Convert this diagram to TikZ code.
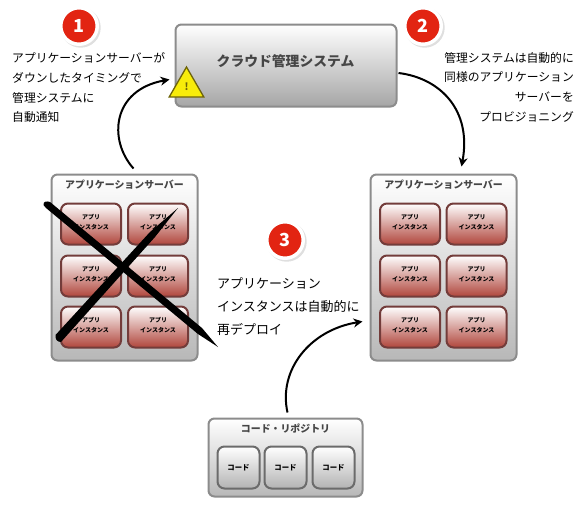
\documentclass[tikz,border=0pt]{standalone}
\usepackage{fontspec}
\setmainfont{Noto Sans CJK JP}
\usepackage{tikz}
\usetikzlibrary{arrows.meta, shapes.geometric, shadows}
\definecolor{Frame}{RGB}{140, 140, 140}
\definecolor{Ink}{RGB}{70, 70, 70}
\definecolor{Wine}{RGB}{115, 60, 58}
\definecolor{Brick}{RGB}{176, 70, 60}
\definecolor{Badge}{RGB}{226, 36, 18}
\definecolor{Sign}{RGB}{248, 236, 10}
\definecolor{SignEdge}{RGB}{110, 100, 10}

\begin{document}
\begin{tikzpicture}[
    x=1pt, y=-1pt,
    panel/.style={rectangle, rounded corners=6pt, draw=Frame, line width=2pt, top color=white, bottom color=black!28, minimum width=#1, inner sep=0pt},
    instance/.style={rectangle, rounded corners=7pt, draw=Wine, line width=2pt, top color=white, bottom color=Brick, minimum width=60pt, minimum height=41pt, align=center, inner sep=0pt, text depth=4pt, font=\fontsize{6}{10.7}\selectfont\bfseries},
    artifact/.style={rectangle, rounded corners=7pt, draw=black!58, line width=2pt, top color=white, bottom color=black!30, minimum width=42pt, minimum height=42pt, inner sep=0pt, font=\fontsize{7.4}{9}\selectfont\bfseries},
    heading/.style={text=Ink, inner sep=0pt, font=\fontsize{9.9}{12}\selectfont\bfseries},
    caption/.style={anchor=north west, align=left, inner sep=0pt, text=black},
    badge/.style={circle, draw=white, line width=3.5pt, fill=Badge, text=white, minimum size=36.5pt, inner sep=0pt, drop shadow={shadow xshift=1.5pt, shadow yshift=-1.5pt, shadow scale=1.1, opacity=0.25}, font=\fontsize{18}{18}\selectfont\bfseries},
    flow/.style={-{Stealth[length=9pt, width=9pt]}, line width=2pt, black}
]
    \useasboundingbox (0, 0) rectangle (587, 515);

    % Cloud system
    \node[panel=221pt, minimum height=82pt, bottom color=black!35] (cloud) at (286, 65.5) {};
    \node[heading, font=\fontsize{13.8}{16}\selectfont\bfseries] (cloudname) at (285.5, 61) {クラウド管理システム};
    \node[regular polygon, regular polygon sides=3, minimum size=40pt, inner sep=0pt, draw=SignEdge, line width=1.3pt, fill=Sign, text=SignEdge, font=\fontsize{10}{10}\selectfont\bfseries] (warn) at (186.5, 87) {!};

    % Failed server
    \node[panel=146pt, minimum height=186pt] (srvdown) at (124.5, 267.5) {};
    \node[heading] (srvdownname) at (124.5, 185) {アプリケーションサーバー};
    \node[instance] (down1) at (91, 224) {アプリ\\インスタンス};
    \node[instance] (down2) at (158, 224) {アプリ\\インスタンス};
    \node[instance] (down3) at (91, 276) {アプリ\\インスタンス};
    \node[instance] (down4) at (158, 276) {アプリ\\インスタンス};
    \node[instance] (down5) at (91, 327) {アプリ\\インスタンス};
    \node[instance] (down6) at (158, 327) {アプリ\\インスタンス};

    % Big cross
    \fill[black] (43.5, 205) .. controls (43, 201) and (47, 201) .. (50, 202) -- (202, 328) -- (218, 347) -- (198, 334) -- (46, 208) .. controls (45, 207) and (44, 206) .. (43.5, 205) -- cycle;
    \fill[black] (178, 208) -- (150, 232) -- (55.5, 335) .. controls (55, 339) and (57, 342) .. (61, 342) -- (155, 237) -- cycle;

    % Replacement server
    \node[panel=146pt, minimum height=186pt] (srvnew) at (443.5, 267.5) {};
    \node[heading] (srvnewname) at (443.5, 185) {アプリケーションサーバー};
    \node[instance] (new1) at (410, 224) {アプリ\\インスタンス};
    \node[instance] (new2) at (476.5, 224) {アプリ\\インスタンス};
    \node[instance] (new3) at (410, 276) {アプリ\\インスタンス};
    \node[instance] (new4) at (476.5, 276) {アプリ\\インスタンス};
    \node[instance] (new5) at (410, 327) {アプリ\\インスタンス};
    \node[instance] (new6) at (476.5, 327) {アプリ\\インスタンス};

    % Code repository
    \node[panel=154pt, minimum height=78pt] (repo) at (285.5, 457.5) {};
    \node[heading] (reponame) at (285.5, 428) {コード・リポジトリ};
    \node[artifact] (code1) at (238.5, 467.5) {コード};
    \node[artifact] (code2) at (285.5, 467.5) {コード};
    \node[artifact] (code3) at (333.5, 467.5) {コード};

    % Numbered notes
    \node[badge] (one) at (79, 26) {1};
    \node[caption, font=\fontsize{11.8}{19.7}\selectfont] (onetext) at (12, 52.5) {アプリケーションサーバーが\\ダウンしたタイミングで\\管理システムに\\自動通知};
    \node[badge] (two) at (423, 26) {2};
    \node[caption, align=right, anchor=north east, font=\fontsize{11.8}{19.7}\selectfont] (twotext) at (574, 52) {管理システムは自動的に\\同様のアプリケーション\\サーバーを\\プロビジョニング};
    \node[badge] (three) at (285, 240) {3};
    \node[caption, font=\fontsize{13}{23}\selectfont] (threetext) at (217, 277) {アプリケーション\\インスタンスは自動的に\\再デプロイ};

    % Connectors
    \draw[flow] ([shift={(9, -5)}]srvdown.north) .. controls (108, 140) and (112, 90) .. ([shift={(-5, 14)}]cloud.west);
    \draw[flow] ([shift={(1, 7.5)}]cloud.east) .. controls (440, 78) and (472, 110) .. ([shift={(18, -7)}]srvnew.north);
    \draw[flow] ([shift={(2, -5)}]repo.north) .. controls (278, 370) and (310, 330) .. ([shift={(-7, 54)}]srvnew.west);

\end{tikzpicture}
\end{document}
